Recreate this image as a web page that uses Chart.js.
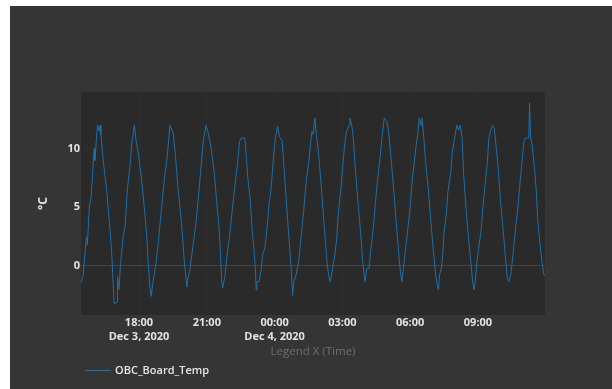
<!DOCTYPE html>
<html>
<head>
<meta charset="utf-8">
<script src="https://cdn.jsdelivr.net/npm/chart.js@4.4.1/dist/chart.umd.min.js"></script>
<style>
  html, body { margin: 0; padding: 0; background: #ffffff; }
  #panel { position: absolute; left: 10px; top: 6px; width: 602px; height: 383px; background: #353535; }
  canvas { display: block; }
</style>
</head>
<body>
<div id="panel"><canvas id="chart" width="602" height="383"></canvas></div>
<script>
// Telemetry: minutes since 2020-12-03 00:00 and OBC board temperature (°C)
const sampleMinutes = [
  926, 932, 937, 941, 943, 948, 953, 957, 961, 963, 968, 970, 974, 977, 979, 985, 994, 1003, 1008, 1012,
  1014, 1022, 1023, 1027, 1031, 1038, 1043, 1049, 1056, 1061, 1068, 1072, 1078, 1085, 1094, 1100, 1105, 1109, 1112, 1118,
  1125, 1131, 1136, 1140, 1147, 1155, 1162, 1171, 1177, 1184, 1193, 1200, 1207, 1209, 1215, 1224, 1231, 1237, 1244, 1251,
  1258, 1264, 1271, 1280, 1286, 1293, 1300, 1302, 1308, 1316, 1320, 1327, 1336, 1342, 1347, 1351, 1361, 1364, 1369, 1376,
  1380, 1385, 1389, 1391, 1393, 1399, 1405, 1408, 1414, 1420, 1426, 1429, 1433, 1438, 1442, 1448, 1453, 1460, 1464, 1470,
  1477, 1484, 1488, 1491, 1497, 1504, 1510, 1517, 1524, 1531, 1535, 1539, 1542, 1547, 1551, 1557, 1563, 1569, 1575, 1579,
  1584, 1588, 1594, 1600, 1605, 1609, 1616, 1622, 1627, 1631, 1638, 1640, 1645, 1649, 1655, 1662, 1669, 1674, 1680, 1685,
  1691, 1695, 1702, 1708, 1714, 1720, 1726, 1731, 1738, 1742, 1746, 1753, 1760, 1767, 1773, 1778, 1782, 1786, 1792, 1800,
  1806, 1811, 1816, 1820, 1824, 1829, 1831, 1835, 1841, 1848, 1855, 1861, 1866, 1870, 1875, 1878, 1883, 1887, 1890, 1896,
  1900, 1908, 1912, 1918, 1924, 1929, 1933, 1938, 1942, 1949, 1955, 1961, 1965, 1969, 1973, 1976, 1982, 1989, 1993, 1998,
  2005, 2009, 2013, 2018, 2023, 2026, 2033, 2040, 2048, 2054, 2058, 2062, 2067, 2073, 2080, 2086, 2092, 2097, 2102, 2106,
  2115, 2117, 2120, 2124, 2131, 2135, 2139, 2144, 2150, 2155, 2158
];
const boardTemp = [
  -1.45, -0.8, 1.35, 2.5, 1.8, 5.0, 5.9, 7.9, 10.0, 9.0, 11.3, 12.0, 11.5, 12.0, 11.2, 9.0, 6.5, 3.1, 0.8, -2.0,
  -3.2, -3.1, -0.9, -2.0, 0.2, 2.5, 3.3, 6.5, 8.5, 10.5, 12.0, 10.75, 9.6, 7.9, 5.0, 2.8, 0.0, -1.8, -2.6, -1.2,
  0.2, 1.9, 3.6, 5.0, 7.3, 9.3, 12.0, 11.3, 9.3, 6.5, 3.6, 0.5, -1.8, -1.2, -0.4, 1.9, 3.6, 5.6, 8.2, 10.7,
  12.0, 11.3, 10.2, 7.9, 5.6, 3.1, -1.5, -1.9, -0.9, 1.5, 2.36, 4.6, 7.2, 8.9, 10.6, 10.9, 10.9, 9.7, 7.5, 5.5,
  3.2, 1.5, -0.2, -2.05, -1.34, -1.34, -0.2, 0.94, 1.5, 3.2, 5.5, 6.05, 7.5, 9.6, 10.9, 11.9, 11.0, 10.7, 8.9, 6.05,
  2.9, -0.2, -2.5, -1.34, -0.77, 0.37, 2.36, 4.6, 7.2, 8.9, 10.3, 11.45, 11.2, 12.6, 11.2, 9.5, 7.2, 4.6, 2.07, 0.37,
  -0.9, -1.34, -0.2, 0.94, 2.36, 4.35, 6.6, 8.9, 10.6, 11.45, 12.0, 12.6, 12.0, 10.9, 8.0, 5.2, 2.64, 0.37, -1.34, -0.2,
  -0.2, 1.2, 3.2, 5.5, 7.5, 9.2, 11.2, 12.6, 12.3, 11.7, 10.3, 7.8, 5.0, 2.07, -0.2, -1.34, -0.2, 0.94, 2.64, 5.0,
  7.5, 8.9, 10.3, 11.2, 12.6, 12.0, 12.6, 11.45, 8.9, 6.6, 3.8, 1.5, -0.2, -1.34, -2.05, -0.77, -0.2, 1.2, 2.9, 4.35,
  6.3, 8.0, 9.7, 10.9, 12.0, 11.6, 12.0, 10.9, 7.8, 4.6, 2.36, 0.37, -1.05, -2.05, -1.34, 0.09, 1.5, 3.2, 5.0, 6.6,
  8.9, 10.9, 11.45, 12.0, 11.85, 10.9, 8.6, 5.5, 2.64, 0.37, -1.05, -1.34, -0.77, 0.94, 3.2, 5.0, 7.2, 8.9, 10.6, 10.9,
  10.9, 13.9, 10.9, 10.3, 8.0, 6.3, 3.8, 2.07, 0.37, -0.77, -0.77
];

// Axis ticks
const xTickValues = [1080, 1260, 1440, 1620, 1800, 1980];
const xTickLabels = [["18:00", "Dec 3, 2020"], "21:00", ["00:00", "Dec 4, 2020"], "03:00", "06:00", "09:00"];
const yTickValues = [0, 5, 10];

const seriesName = "OBC_Board_Temp";
const lineColor = "#1c70aa";

// Darker fill behind the plotting area
const plotBackground = {
  id: "plotBackground",
  beforeDraw(chart) {
    const { ctx, chartArea: a } = chart;
    ctx.save();
    ctx.fillStyle = "#2a2a2a";
    ctx.fillRect(a.left, a.top, a.right - a.left, a.bottom - a.top);
    ctx.restore();
  }
};

// Single-entry legend underneath the x axis title
const lineLegend = {
  id: "lineLegend",
  afterDraw(chart) {
    const { ctx } = chart;
    const ds = chart.data.datasets[0];
    const y = 364.5;
    ctx.save();
    ctx.strokeStyle = ds.borderColor;
    ctx.lineWidth = 1;
    ctx.beginPath();
    ctx.moveTo(75, y);
    ctx.lineTo(101, y);
    ctx.stroke();
    ctx.fillStyle = "#e6e6e6";
    ctx.font = "600 11px 'Open Sans', sans-serif";
    ctx.textBaseline = "middle";
    ctx.textAlign = "left";
    ctx.fillText(ds.label, 105, y);
    ctx.restore();
  }
};

new Chart(document.getElementById("chart"), {
  type: "line",
  data: {
    datasets: [{
      label: seriesName,
      data: sampleMinutes.map((m, i) => ({ x: m, y: boardTemp[i] })),
      borderColor: lineColor,
      borderWidth: 1,
      pointRadius: 0,
      tension: 0,
      fill: false
    }]
  },
  options: {
    responsive: false,
    animation: false,
    devicePixelRatio: 1,
    layout: { padding: { top: 86, right: 67, bottom: 30, left: 0 } },
    plugins: {
      legend: { display: false },
      tooltip: { enabled: false }
    },
    scales: {
      x: {
        type: "linear",
        min: 926,
        max: 2158,
        afterBuildTicks(scale) { scale.ticks = xTickValues.map(v => ({ value: v })); },
        afterFit(scale) { scale.height = 44; },
        ticks: {
          callback(value, index) { return xTickLabels[index]; },
          color: "#e3e3e3",
          font: { family: "'Open Sans', sans-serif", size: 11, weight: "bold", lineHeight: "14px" },
          padding: 1,
          maxRotation: 0,
          autoSkip: false
        },
        grid: { color: "rgba(255,255,255,0.018)", drawTicks: false, tickLength: 0 },
        border: { display: false },
        title: {
          display: true,
          text: "Legend X (Time)",
          color: "#6e6e6e",
          font: { family: "'Open Sans', sans-serif", size: 11.5, weight: "normal" },
          padding: { top: 0, bottom: 0 }
        }
      },
      y: {
        type: "linear",
        min: -4.18,
        max: 14.83,
        afterBuildTicks(scale) { scale.ticks = yTickValues.map(v => ({ value: v })); },
        afterFit(scale) { scale.width = 71; },
        ticks: {
          color: "#e3e3e3",
          font: { family: "'Open Sans', sans-serif", size: 11, weight: "bold" },
          padding: 1
        },
        grid: {
          color: (c) => (c.tick && c.tick.value === 0 ? "#444444" : "rgba(255,255,255,0.012)"),
          drawTicks: false,
          tickLength: 0
        },
        border: { display: false },
        title: {
          display: true,
          text: "°C",
          color: "#e3e3e3",
          font: { family: "'Open Sans', sans-serif", size: 12, weight: "bold" },
          padding: { top: 26, bottom: 0 }
        }
      }
    }
  },
  plugins: [plotBackground, lineLegend]
});
</script>
</body>
</html>
